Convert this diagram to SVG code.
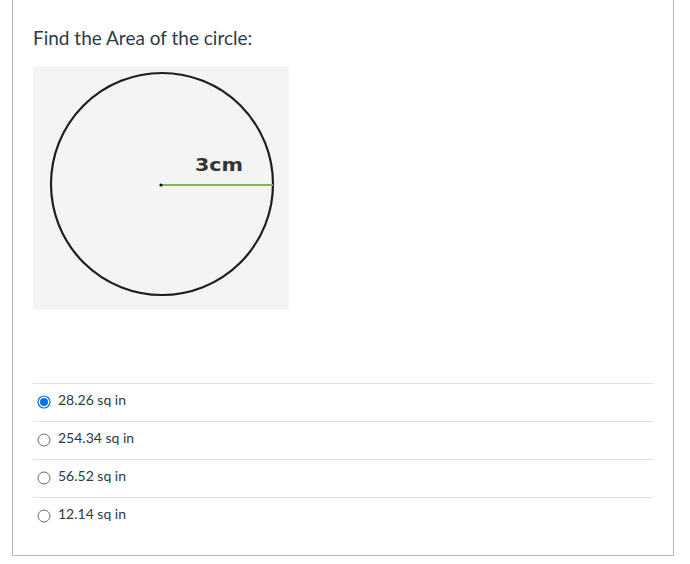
<svg xmlns="http://www.w3.org/2000/svg" width="690" height="564" viewBox="0 0 690 564">
<style>
.t{font-family:Lato,"Liberation Sans",sans-serif;fill:#2d3b45}
.opt{font-size:14px}
.sep{stroke:#e0e0e0;stroke-width:1}
.radio{fill:#fff;stroke:#6b6b6b;stroke-width:1}
</style>
<rect x="0" y="0" width="690" height="564" fill="#fff"/>
<path d="M12.5,-1 V555.5 H673.5 V-1" fill="none" stroke="#b5b5b5" stroke-width="1"/>
<text class="t" x="33" y="45" font-size="19">Find the Area of the circle:</text>
<g id="figure">
<rect x="33" y="66" width="256" height="244" fill="#f4f4f4"/>
<circle cx="162" cy="184" r="111" fill="none" stroke="#1e1e1e" stroke-width="2.2"/>
<line x1="162" y1="185" x2="273" y2="185" stroke="#86b45a" stroke-width="2.2"/>
<circle cx="161" cy="185" r="1.6" fill="#111"/>
<text x="195" y="171" font-family="'DejaVu Sans',Verdana,sans-serif" font-weight="bold" font-size="18.5" textLength="48" lengthAdjust="spacingAndGlyphs" fill="#333">3cm</text>
</g>
<g id="options">
<line class="sep" x1="33" y1="383.5" x2="653" y2="383.5"/>
<line class="sep" x1="33" y1="421.5" x2="653" y2="421.5"/>
<line class="sep" x1="33" y1="459.5" x2="653" y2="459.5"/>
<line class="sep" x1="33" y1="497.5" x2="653" y2="497.5"/>
<g id="opt1">
<circle cx="44" cy="402" r="6" fill="#fff" stroke="#0770e3" stroke-width="1.2"/>
<circle cx="44" cy="402" r="4" fill="#0770e3"/>
<text class="t opt" x="58" y="405">28.26 sq in</text>
</g>
<g id="opt2">
<circle class="radio" cx="44" cy="440" r="6"/>
<text class="t opt" x="58" y="443">254.34 sq in</text>
</g>
<g id="opt3">
<circle class="radio" cx="44" cy="478" r="6"/>
<text class="t opt" x="58" y="481">56.52 sq in</text>
</g>
<g id="opt4">
<circle class="radio" cx="44" cy="516" r="6"/>
<text class="t opt" x="58" y="519">12.14 sq in</text>
</g>
</g>
</svg>
